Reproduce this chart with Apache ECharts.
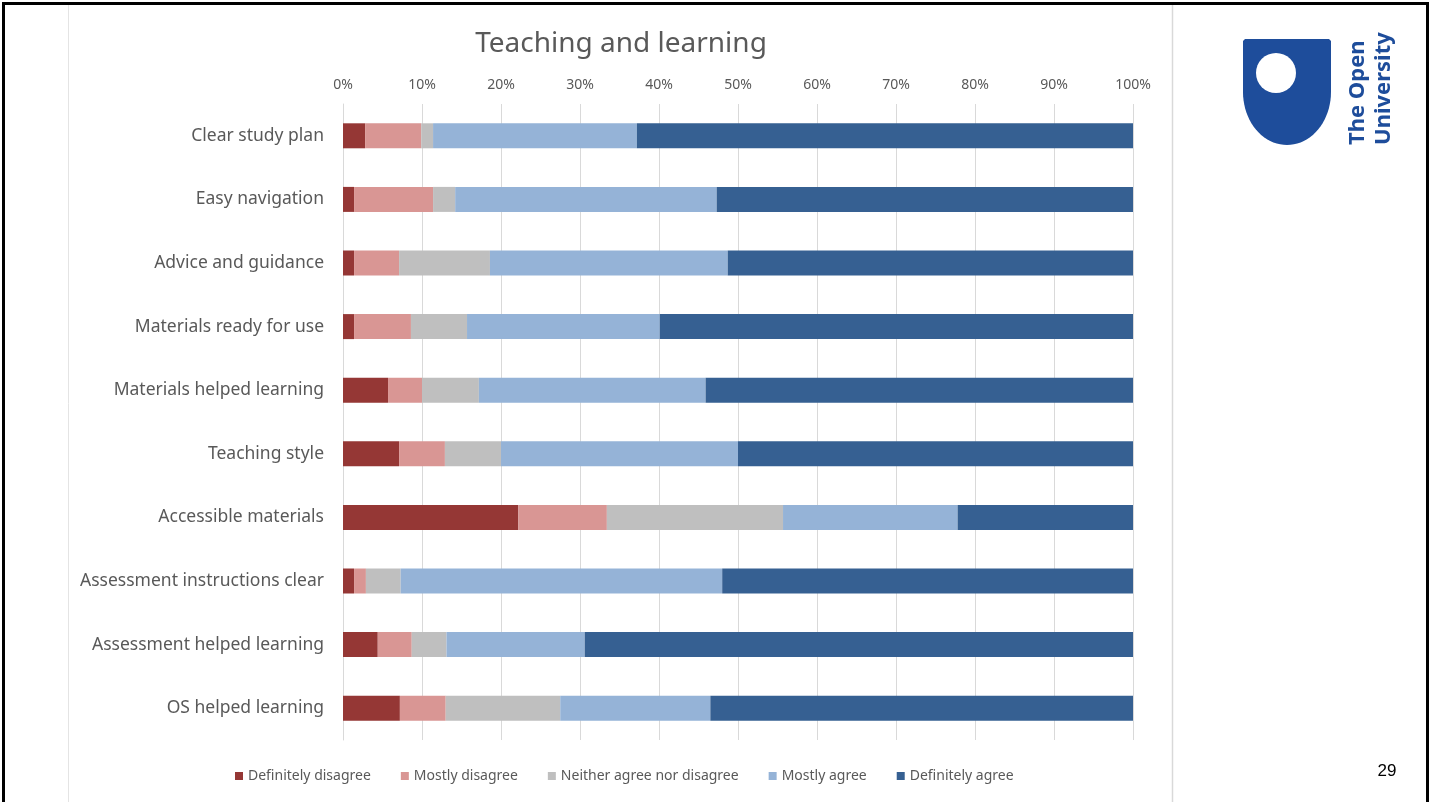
<!DOCTYPE html>
<html>
<head>
<meta charset="utf-8">
<script src="https://cdn.jsdelivr.net/npm/echarts@6/dist/echarts.min.js"></script>
<style>
html,body{margin:0;padding:0;background:#fff;}
#chart{width:1431px;height:802px;}
</style>
</head>
<body>
<div id="chart"></div>
<script>
const categories = [
  "Clear study plan",
  "Easy navigation",
  "Advice and guidance",
  "Materials ready for use",
  "Materials helped learning",
  "Teaching style",
  "Accessible materials",
  "Assessment instructions clear",
  "Assessment helped learning",
  "OS helped learning"
];
const seriesNames = ["Definitely disagree", "Mostly disagree", "Neither agree nor disagree", "Mostly agree", "Definitely agree"];
const definitelyDisagree = [2.8, 1.4, 1.4, 1.4, 5.7, 7.1, 22.2, 1.4, 4.4, 7.2];
const mostlyDisagree     = [7.1, 10.0, 5.7, 7.2, 4.3, 5.8, 11.2, 1.5, 4.3, 5.8];
const neither            = [1.5, 2.8, 11.5, 7.1, 7.2, 7.1, 22.3, 4.4, 4.4, 14.5];
const mostlyAgree        = [25.8, 33.1, 30.1, 24.4, 28.7, 30.0, 22.1, 40.7, 17.5, 19.0];
const definitelyAgree    = [62.8, 52.7, 51.3, 60.0, 54.2, 50.0, 22.2, 52.1, 69.5, 53.5];
const tickLabels = ["0%","10%","20%","30%","40%","50%","60%","70%","80%","90%","100%"];
const titleText = "Teaching and learning";
const pageNumber = "29";

const colors = ["#953735", "#d99694", "#bfbfbf", "#95b3d7", "#366092"];
const dataSets = [definitelyDisagree, mostlyDisagree, neither, mostlyAgree, definitelyAgree];
const FONT = "Noto Sans";

// shield outline for the logo (decoration)
function shieldPoints() {
  const pts = [[1243, 41], [1245, 39], [1329, 39], [1331, 41], [1331, 92]];
  const cx = 1287, cy = 92, rx = 44, ry = 53;
  for (let k = 1; k < 40; k++) {
    const a = Math.PI * k / 40;
    pts.push([cx + rx * Math.cos(a), cy + ry * Math.sin(a)]);
  }
  pts.push([1243, 92]);
  return pts;
}

const chart = echarts.init(document.getElementById('chart'), null, {renderer: 'canvas'});
const option = {
  animation: false,
  backgroundColor: '#ffffff',
  title: {
    text: titleText,
    left: 616,
    top: 25,
    textAlign: 'center',
    textStyle: {fontFamily: FONT, fontSize: 28, fontWeight: 'normal', color: '#595959'}
  },
  legend: {
    data: seriesNames,
    left: 230,
    bottom: 14,
    itemWidth: 8,
    itemHeight: 8,
    itemGap: 30,
    icon: 'rect',
    textStyle: {fontFamily: FONT, fontSize: 14, color: '#595959'}
  },
  grid: {left: 343, right: 298, top: 104, bottom: 62, containLabel: false},
  xAxis: {
    type: 'value',
    position: 'top',
    min: 0, max: 100, interval: 10,
    axisLine: {show: false},
    axisTick: {show: false},
    splitLine: {show: true, lineStyle: {color: '#d9d9d9', width: 1}},
    axisLabel: {
      fontFamily: FONT, fontSize: 14, color: '#595959', margin: 12,
      formatter: function (v) { return tickLabels[Math.round(v / 10)]; }
    }
  },
  yAxis: {
    type: 'category',
    data: categories,
    inverse: true,
    axisLine: {show: true, lineStyle: {color: '#d9d9d9'}},
    axisTick: {show: false},
    axisLabel: {fontFamily: FONT, fontSize: 17.5, color: '#595959', margin: 19}
  },
  series: seriesNames.map(function (name, i) {
    return {
      name: name,
      type: 'bar',
      stack: 'total',
      barWidth: 25,
      data: dataSets[i],
      itemStyle: {color: colors[i]},
      emphasis: {disabled: true}
    };
  }),
  graphic: [
    {type: 'rect', shape: {x: 3.5, y: 3.5, width: 1424, height: 810}, style: {fill: 'none', stroke: '#000', lineWidth: 3}, z: 100},
    {type: 'line', shape: {x1: 68.5, y1: 5, x2: 68.5, y2: 802}, style: {stroke: '#e4e4e4', lineWidth: 1}},
    {type: 'line', shape: {x1: 1172.5, y1: 5, x2: 1172.5, y2: 802}, style: {stroke: '#d9d9d9', lineWidth: 1.5}},
    {type: 'polygon', shape: {points: shieldPoints()}, style: {fill: '#1e4d9b'}},
    {type: 'circle', shape: {cx: 1276, cy: 73, r: 20}, style: {fill: '#ffffff'}},
    {type: 'text', x: 1358, y: 145, rotation: Math.PI / 2, style: {text: 'The Open', fontFamily: FONT, fontWeight: 700, fontSize: 22, fill: '#1e4d9b', align: 'left', verticalAlign: 'middle'}},
    {type: 'text', x: 1384, y: 145, rotation: Math.PI / 2, style: {text: 'University', fontFamily: FONT, fontWeight: 700, fontSize: 22, fill: '#1e4d9b', align: 'left', verticalAlign: 'middle'}},
    {type: 'text', x: 1387, y: 771, style: {text: pageNumber, fontFamily: 'Liberation Sans', fontSize: 17, fill: '#000', align: 'center', verticalAlign: 'middle'}}
  ]
};
chart.setOption(option);
</script>
</body>
</html>
